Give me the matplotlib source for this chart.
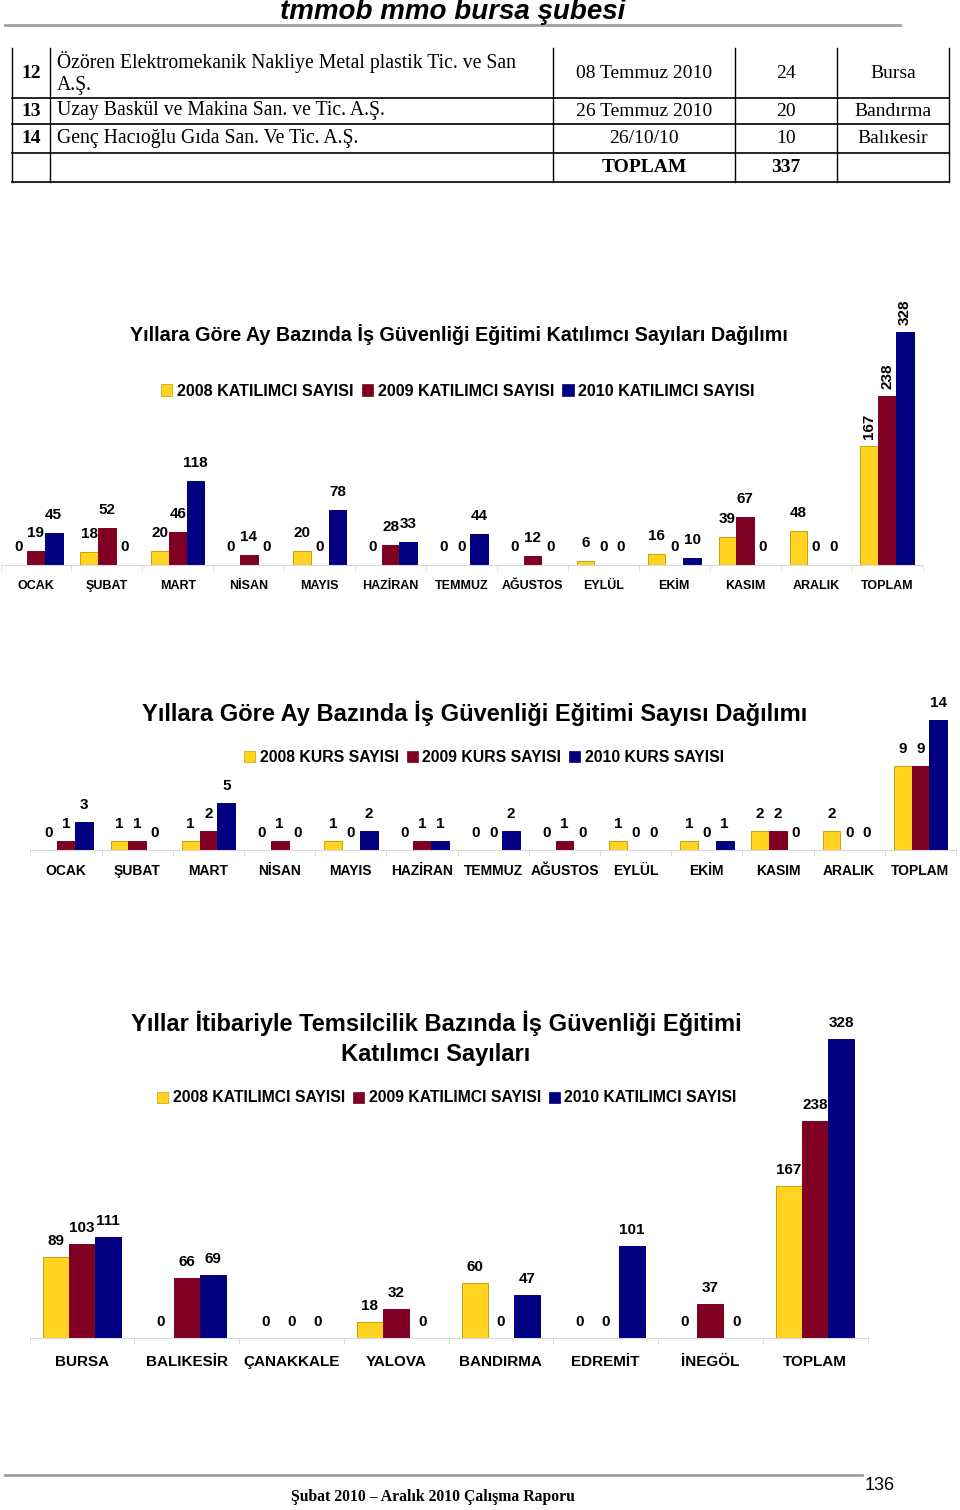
import numpy as np
import matplotlib.pyplot as plt
from matplotlib.patches import Patch

plt.rcParams['font.family'] = ['Liberation Sans', 'DejaVu Sans']

W, H = 960, 1510

# tablo (önceki sayfadan devam)
row_no = ['12', '13', '14', '']
firma = ['Özören Elektromekanik Nakliye Metal plastik Tic. ve San\nA.Ş.',
         'Uzay Baskül ve Makina San. ve Tic. A.Ş.',
         'Genç Hacıoğlu Gıda San. Ve Tic. A.Ş.', '']
tarih = ['08 Temmuz 2010', '26 Temmuz 2010', '26/10/10', 'TOPLAM']
katilimci = ['24', '20', '10', '337']
yer = ['Bursa', 'Bandırma', 'Balıkesir', '']

# grafik 1 - katılımcı sayıları (aylık)
aylar = ['OCAK', 'ŞUBAT', 'MART', 'NİSAN', 'MAYIS', 'HAZİRAN', 'TEMMUZ',
         'AĞUSTOS', 'EYLÜL', 'EKİM', 'KASIM', 'ARALIK', 'TOPLAM']
kat_2008 = [0, 18, 20, 0, 20, 0, 0, 0, 6, 16, 39, 48, 167]
kat_2009 = [19, 52, 46, 14, 0, 28, 0, 12, 0, 0, 67, 0, 238]
kat_2010 = [45, 0, 118, 0, 78, 33, 44, 0, 0, 10, 0, 0, 328]

# grafik 2 - kurs sayıları (aylık)
kurs_2008 = [0, 1, 1, 0, 1, 0, 0, 0, 1, 1, 2, 2, 9]
kurs_2009 = [1, 1, 2, 1, 0, 1, 0, 1, 0, 0, 2, 0, 9]
kurs_2010 = [3, 0, 5, 0, 2, 1, 2, 0, 0, 1, 0, 0, 14]

# grafik 3 - temsilcilik bazında
temsilcilik = ['BURSA', 'BALIKESİR', 'ÇANAKKALE', 'YALOVA', 'BANDIRMA',
               'EDREMİT', 'İNEGÖL', 'TOPLAM']
tem_2008 = [89, 0, 0, 18, 60, 0, 0, 167]
tem_2009 = [103, 66, 0, 32, 0, 0, 37, 238]
tem_2010 = [111, 69, 0, 0, 47, 101, 0, 328]

colors = ['#FFD320', '#7F0022', '#000080']
edges = ['#C9A200', '#7F0022', '#000080']

fig = plt.figure(figsize=(W / 100, H / 100), dpi=100)

bg = fig.add_axes([0, 0, 1, 1])
bg.set_xlim(0, W)
bg.set_ylim(H, 0)
bg.axis('off')


def px_axes(x0, y0, x1, y1):
    return fig.add_axes([x0 / W, 1 - y1 / H, (x1 - x0) / W, (y1 - y0) / H])


def bar_chart(ax, cats, series, ymax, fs_lab, fs_tick, tick_off, off, rot_last=False):
    x = np.arange(len(cats))
    for i, vals in enumerate(series):
        bars = ax.bar(x + (i - 1) * 0.25, vals, 0.25, color=colors[i],
                      edgecolor=edges[i],
                      linewidth=[0.7 if v else 0 for v in vals], zorder=2)
        for j, (b, v) in enumerate(zip(bars, vals)):
            cx = b.get_x() + b.get_width() / 2
            if rot_last and j == len(cats) - 1:
                ax.annotate(str(v), (cx, v), xytext=(0, 7), textcoords='offset pixels',
                            ha='center', va='bottom', rotation=90,
                            fontsize=fs_lab, fontweight='bold')
            else:
                ax.annotate(str(v), (cx, v), xytext=(0, off), textcoords='offset pixels',
                            ha='center', va='baseline',
                            fontsize=fs_lab, fontweight='bold')
    # kategori etiketleri
    for xi, c in zip(x, cats):
        ax.annotate(c, (xi, 0), xytext=(0, -tick_off), textcoords='offset pixels',
                    ha='center', va='baseline', fontsize=fs_tick, fontweight='bold',
                    annotation_clip=False)
    ax.set_xlim(-0.5, len(cats) - 0.5)
    ax.set_ylim(0, ymax)
    ax.set_xticks(x)
    ax.set_xticks(np.arange(-0.5, len(cats)), minor=True)
    ax.tick_params(axis='x', which='major', length=0, labelbottom=False)
    ax.tick_params(axis='x', which='minor', length=4, color='#d9d9d9')
    ax.set_yticks([])
    for s in ['top', 'left', 'right']:
        ax.spines[s].set_visible(False)
    ax.spines['bottom'].set_color('#d9d9d9')
    ax.set_facecolor('none')


def legend(labels, cx, cy, fs):
    handles = [Patch(facecolor=c, edgecolor=e, linewidth=0.5) for c, e in zip(colors, edges)]
    fig.legend(handles, labels, loc='center', bbox_to_anchor=(cx / W, 1 - cy / H),
               ncol=3, frameon=False, handlelength=0.7, handleheight=0.7,
               handletextpad=0.3, columnspacing=0.5,
               prop={'size': fs, 'weight': 'bold'})


# başlık
bg.text(453, 12, 'tmmob mmo bursa şubesi', ha='center', va='center',
        fontsize=20, fontweight='bold', fontstyle='italic')
bg.plot([5, 900], [25, 25], color='#a0a0a0', lw=2)

# tablo
ys = [48, 98, 124, 153, 182]
xs = [12, 50, 553, 735, 837, 949]
for y in ys[1:]:
    bg.plot([xs[0], xs[-1]], [y, y], color='black', lw=1.2)
for x in xs:
    bg.plot([x, x], [ys[0], ys[-1]], color='black', lw=1)
serif = ['Liberation Serif', 'DejaVu Serif']
for r in range(4):
    yc = (ys[r] + ys[r + 1]) / 2
    bg.text(31, yc, row_no[r], ha='center', va='center', family=serif,
            fontsize=14, fontweight='bold')
    bg.text(57, yc, firma[r], ha='left', va='center', family=serif,
            fontsize=14.2, linespacing=1.22)
    w = 'bold' if r == 3 else 'normal'
    bg.text(644, yc, tarih[r], ha='center', va='center', family=serif,
            fontsize=14, fontweight=w)
    bg.text(786, yc, katilimci[r], ha='center', va='center', family=serif,
            fontsize=14, fontweight=w)
    bg.text(893, yc, yer[r], ha='center', va='center', family=serif, fontsize=14)

# grafik 1
bg.text(459, 335, 'Yıllara Göre Ay Bazında İş Güvenliği Eğitimi Katılımcı Sayıları Dağılımı',
        ha='center', va='center', fontsize=14.2, fontweight='bold')
legend(['2008 KATILIMCI SAYISI', '2009 KATILIMCI SAYISI', '2010 KATILIMCI SAYISI'],
       458, 391, 11.6)
ax1 = px_axes(0.5, 290, 922.5, 565)
bar_chart(ax1, aylar, [kat_2008, kat_2009, kat_2010], 387, 11, 9, 24, 14, rot_last=True)

# grafik 2
bg.text(475, 713, 'Yıllara Göre Ay Bazında İş Güvenliği Eğitimi Sayısı Dağılımı',
        ha='center', va='center', fontsize=17, fontweight='bold')
legend(['2008 KURS SAYISI', '2009 KURS SAYISI', '2010 KURS SAYISI'], 484, 757, 11.3)
ax2 = px_axes(30.5, 690, 956, 850)
bar_chart(ax2, aylar, [kurs_2008, kurs_2009, kurs_2010], 17.2, 11, 10, 25, 13)

# grafik 3
bg.text(436, 1038, 'Yıllar İtibariyle Temsilcilik Bazında İş Güvenliği Eğitimi\nKatılımcı Sayıları',
        ha='center', va='center', fontsize=17, fontweight='bold', linespacing=1.4)
legend(['2008 KATILIMCI SAYISI', '2009 KATILIMCI SAYISI', '2010 KATILIMCI SAYISI'],
       447, 1098, 11.3)
ax3 = px_axes(29.5, 1000, 867.5, 1338)
bar_chart(ax3, temsilcilik, [tem_2008, tem_2009, tem_2010], 370.6, 11, 11, 28, 12)

# alt bilgi
bg.plot([5, 862], [1475, 1475], color='#a0a0a0', lw=2)
bg.text(433, 1497, 'Şubat 2010 – Aralık 2010 Çalışma Raporu', ha='center', va='center',
        family=serif, fontsize=11.3, fontweight='bold')
bg.text(880, 1485, '136', ha='center', va='center', fontsize=13)

fig.savefig('out.png', dpi=100)
